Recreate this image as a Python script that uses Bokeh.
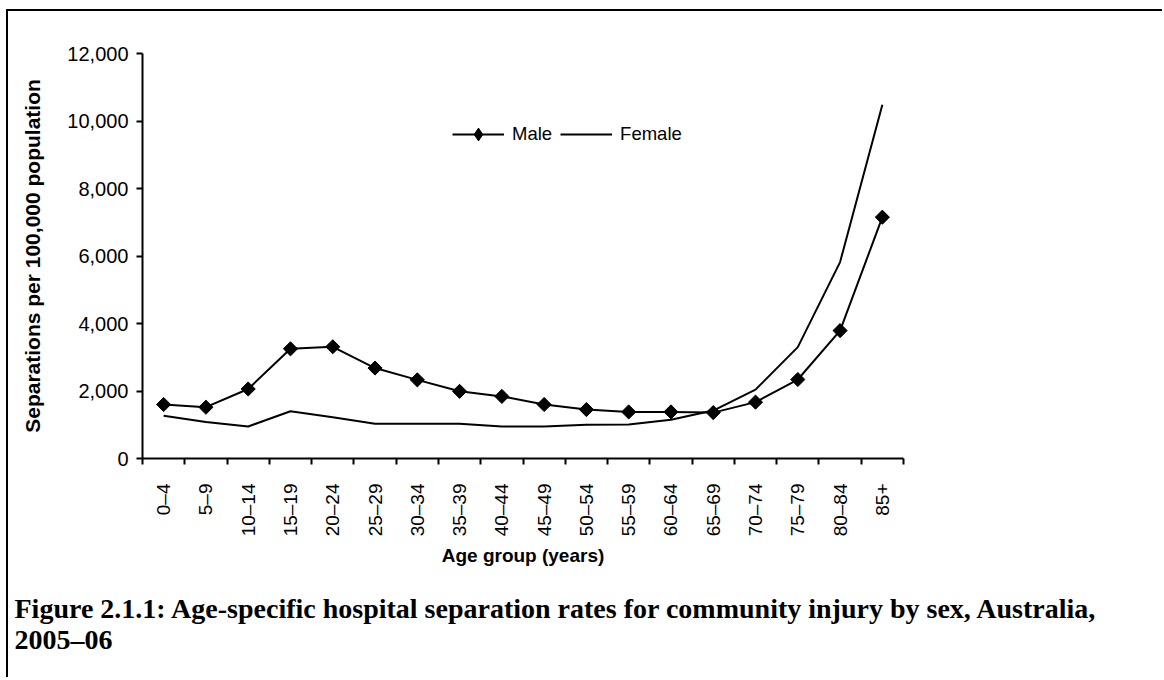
import numpy as np
from bokeh.plotting import figure
from bokeh.models import (ColumnDataSource, FixedTicker, NumeralTickFormatter, Range1d,
                          Title, Legend, LegendItem)
from bokeh.embed import file_html
from bokeh.resources import INLINE

# ---- data ----
categories = ["0–4", "5–9", "10–14", "15–19", "20–24", "25–29", "30–34", "35–39",
              "40–44", "45–49", "50–54", "55–59", "60–64", "65–69", "70–74", "75–79",
              "80–84", "85+"]
male = [1600, 1520, 2060, 3250, 3310, 2680, 2330, 1990, 1840, 1600, 1450, 1380,
        1380, 1360, 1670, 2340, 3790, 7150]
female = [1270, 1080, 950, 1400, 1220, 1030, 1030, 1030, 950, 950, 1000, 1010,
          1150, 1420, 2040, 3300, 5820, 10480]
y_ticks = [0, 2000, 4000, 6000, 8000, 10000, 12000]

x_centres = [i + 0.5 for i in range(len(categories))]
x_bounds = list(range(len(categories) + 1))

SANS = "Liberation Sans"
SERIF = "Liberation Serif"

p = figure(width=1156, height=668, output_backend="svg", toolbar_location=None,
           x_range=Range1d(0, len(categories)), y_range=Range1d(0, 12000),
           min_border_left=134, min_border_top=42, min_border_right=261,
           min_border_bottom=221)
p.styles = {"border-top": "2px solid black", "border-left": "2px solid black",
            "margin-left": "6px", "margin-top": "9px"}
p.xgrid.visible = False
p.ygrid.visible = False
p.outline_line_color = None
p.background_fill_color = "white"
p.border_fill_color = "white"

src = ColumnDataSource(dict(x=x_centres, male=male, female=female))
rf = p.line("x", "female", source=src, line_color="black", line_width=2)
rm = p.line("x", "male", source=src, line_color="black", line_width=2)
rs = p.scatter("x", "male", source=src, marker="square", angle=np.pi / 4, size=10,
               fill_color="black", line_color="black")
# legend swatch for the diamond marker (an off-chart placeholder point)
rd = p.scatter(x=[np.nan], y=[np.nan], marker="diamond", size=13,
               fill_color="black", line_color="black")

# x axis
xa = p.xaxis[0]
xa.ticker = FixedTicker(ticks=x_centres, minor_ticks=x_bounds)
xa.major_label_overrides = {xc: c for xc, c in zip(x_centres, categories)}
xa.major_tick_out = 0
xa.major_tick_in = 0
xa.minor_tick_out = 6
xa.minor_tick_in = 0
xa.minor_tick_line_width = 2
xa.minor_tick_line_color = "black"
xa.axis_line_width = 2
xa.axis_line_color = "black"
xa.major_label_orientation = np.pi / 2
xa.major_label_standoff = 19
xa.major_label_text_font = SANS
xa.major_label_text_font_size = "19px"
xa.major_label_text_color = "black"
xa.axis_label = "Age group (years)"
xa.axis_label_text_font = SANS
xa.axis_label_text_font_style = "bold"
xa.axis_label_text_font_size = "19px"
xa.axis_label_text_color = "black"
xa.axis_label_standoff = 6

# y axis
ya = p.yaxis[0]
ya.ticker = FixedTicker(ticks=y_ticks)
ya.formatter = NumeralTickFormatter(format="0,0")
ya.major_tick_out = 6
ya.major_tick_in = 0
ya.major_tick_line_width = 2
ya.major_tick_line_color = "black"
ya.minor_tick_line_color = None
ya.axis_line_width = 2
ya.axis_line_color = "black"
ya.major_label_standoff = 8
ya.major_label_text_font = SANS
ya.major_label_text_font_size = "20px"
ya.major_label_text_color = "black"
ya.axis_label = "Separations per 100,000 population"
ya.axis_label_text_font = SANS
ya.axis_label_text_font_style = "bold"
ya.axis_label_text_font_size = "21px"
ya.axis_label_text_color = "black"
ya.axis_label_standoff = 20

legend = Legend(items=[LegendItem(label="Male", renderers=[rm, rd]),
                       LegendItem(label="Female", renderers=[rf])],
                orientation="horizontal", location=(310, 308),
                glyph_width=52, glyph_height=32, label_standoff=8, spacing=8,
                padding=0, margin=0, border_line_color=None, background_fill_alpha=0,
                label_text_font=SANS, label_text_font_size="18.5px",
                label_text_color="black")
p.add_layout(legend)

t1 = Title(text="Figure 2.1.1: Age-specific hospital separation rates for community injury by sex, Australia,\n2005–06",
           align="left", offset=-128, text_font=SERIF, text_font_style="bold",
           text_font_size="28px", text_color="black", text_line_height=1.0,
           standoff=42)
p.add_layout(t1, "below")

open("out.html", "w").write(file_html(p, INLINE))
